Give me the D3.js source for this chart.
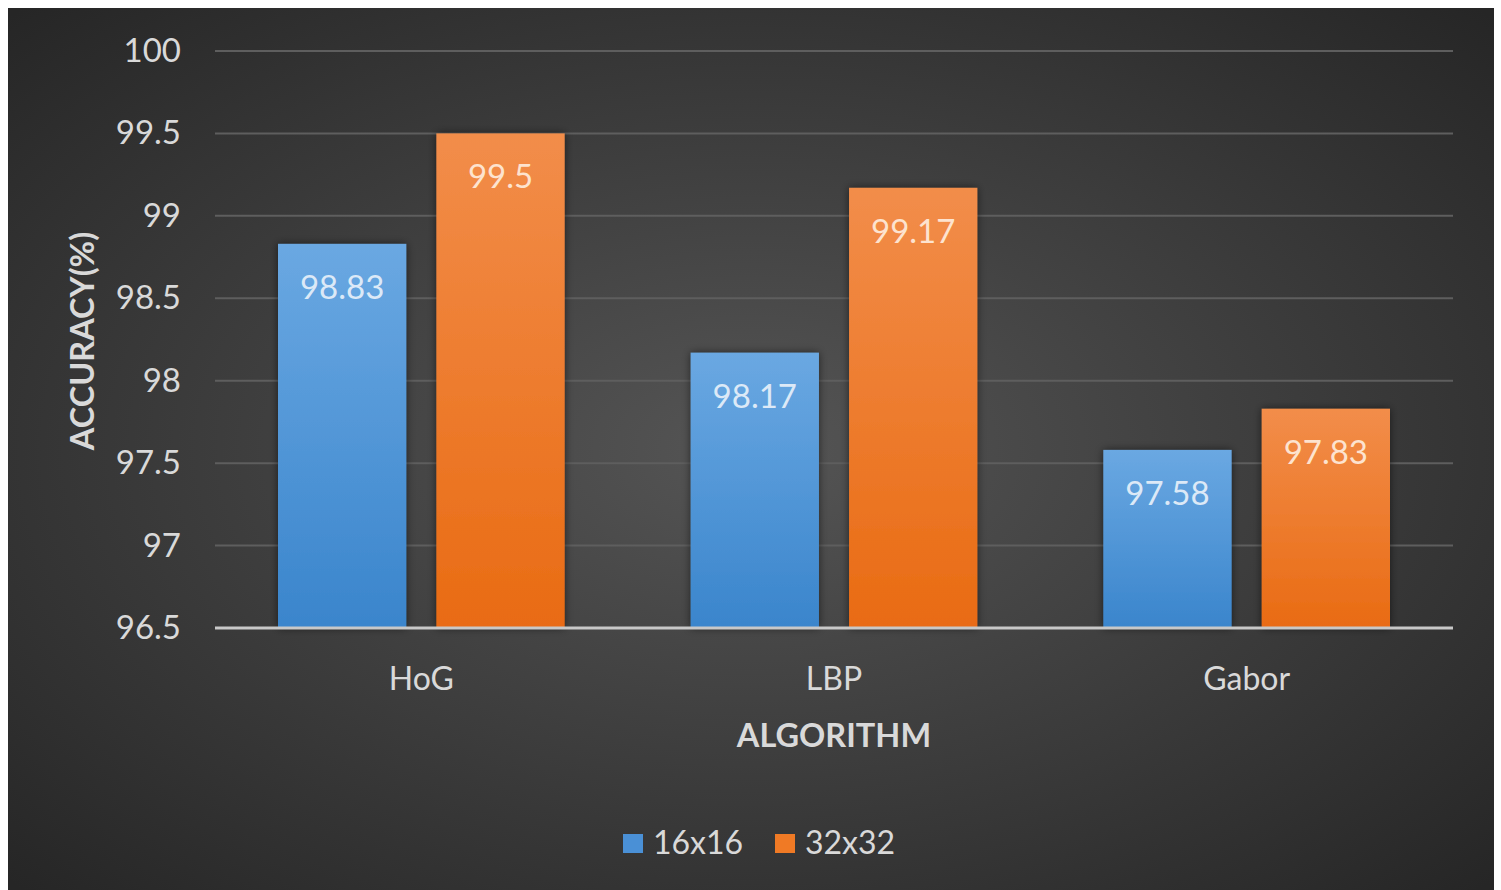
<!DOCTYPE html>
<html><head><meta charset="utf-8">
<script src="https://cdn.jsdelivr.net/npm/d3@7"></script>
<style>html,body{margin:0;padding:0;background:#fff;overflow:hidden}svg{display:block}</style>
</head><body>
<script>
const categories = ["HoG", "LBP", "Gabor"];
const seriesNames = ["16x16", "32x32"];
const values16 = [98.83, 98.17, 97.58];
const values32 = [99.5, 99.17, 97.83];
const yTicks = [96.5, 97, 97.5, 98, 98.5, 99, 99.5, 100];
const colors = ["#4a90d6", "#f07a25"];

(function () {
const W = 1501, H = 890;
const svg = d3.select("body").append("svg").attr("width", W).attr("height", H);
const defs = svg.append("defs");

const bg = defs.append("radialGradient").attr("id", "bg").attr("cx", "50%").attr("cy", "50%").attr("r", "70%");
bg.append("stop").attr("offset", "0%").attr("stop-color", "#555555");
bg.append("stop").attr("offset", "100%").attr("stop-color", "#262626");

const gBlue = defs.append("linearGradient").attr("id", "gb").attr("x1", 0).attr("y1", 0).attr("x2", 0).attr("y2", 1);
gBlue.append("stop").attr("offset", "0%").attr("stop-color", "#6aa8e2");
gBlue.append("stop").attr("offset", "100%").attr("stop-color", "#3a85cc");
const gOr = defs.append("linearGradient").attr("id", "go").attr("x1", 0).attr("y1", 0).attr("x2", 0).attr("y2", 1);
gOr.append("stop").attr("offset", "0%").attr("stop-color", "#f28d4a");
gOr.append("stop").attr("offset", "100%").attr("stop-color", "#e96b13");
const fills = ["url(#gb)", "url(#go)"];

const sh = defs.append("filter").attr("id", "sh").attr("x", "-20%").attr("y", "-20%").attr("width", "140%").attr("height", "140%");
sh.append("feDropShadow").attr("dx", 0).attr("dy", 0).attr("stdDeviation", 4).attr("flood-color", "#000").attr("flood-opacity", 0.55);

svg.append("rect").attr("x", 8).attr("y", 8).attr("width", 1486).attr("height", 882).attr("fill", "url(#bg)");

const pL = 215, pR = 1453, pT = 51, pB = 628;
const x0 = d3.scaleBand().domain(categories).range([pL, pR]).paddingInner(0).paddingOuter(0);
const inner = d3.scaleBand().domain(seriesNames).range([63, x0.bandwidth() - 63]).paddingInner(0.19).paddingOuter(0);
const y = d3.scaleLinear().domain([96.5, 100]).range([pB, pT]);

const font = "Lato, 'Open Sans', sans-serif";
const textCol = "#d9d9d9";

// gridlines
svg.append("g").selectAll("line").data(yTicks.filter(t => t > 96.5)).join("line")
  .attr("x1", pL).attr("x2", pR)
  .attr("y1", d => y(d)).attr("y2", d => y(d))
  .attr("stroke", "#5e5e5e").attr("stroke-width", 2);

// y axis labels
const yAxis = d3.axisLeft(y).tickValues(yTicks).tickSize(0).tickPadding(0).tickFormat(d => String(d));
const ya = svg.append("g").attr("transform", `translate(${181},0)`).call(yAxis);
ya.select(".domain").remove();
ya.selectAll("text").attr("fill", textCol).style("font-family", font).style("font-size", "33px");

// bars
const data = categories.map((c, i) => ({ c, vals: [values16[i], values32[i]] }));
const groups = svg.append("g").selectAll("g").data(data).join("g")
  .attr("transform", d => `translate(${x0(d.c)},0)`);
groups.selectAll("rect").data(d => d.vals.map((v, k) => ({ s: seriesNames[k], v, k }))).join("rect")
  .attr("x", d => inner(d.s)).attr("width", inner.bandwidth())
  .attr("y", d => y(d.v)).attr("height", d => y(96.5) - y(d.v))
  .attr("fill", d => fills[d.k]).attr("filter", "url(#sh)");
groups.selectAll("text").data(d => d.vals.map((v, k) => ({ s: seriesNames[k], v, k }))).join("text")
  .attr("x", d => inner(d.s) + inner.bandwidth() / 2).attr("y", d => y(d.v) + 55)
  .attr("text-anchor", "middle")
  .attr("fill", d => d.k === 0 ? "#dce9f7" : "#fde3cf")
  .style("font-family", font).style("font-size", "33px")
  .text(d => String(d.v));

// x axis
const xAxis = d3.axisBottom(x0).tickSize(0).tickPadding(0);
const xa = svg.append("g").attr("transform", `translate(0,${pB})`).call(xAxis);
xa.select(".domain").remove();
xa.selectAll("text").attr("dy", null).attr("y", 62).attr("fill", textCol).style("font-family", font).style("font-size", "32px");
svg.append("line").attr("x1", pL).attr("x2", pR).attr("y1", pB).attr("y2", pB)
  .attr("stroke", "#c8c8c8").attr("stroke-width", 3);

// axis titles
svg.append("text").attr("x", (pL + pR) / 2).attr("y", 747).attr("text-anchor", "middle")
  .attr("fill", textCol).style("font-family", font).style("font-weight", "bold").style("font-size", "32.5px").text("ALGORITHM");
svg.append("text").attr("transform", `translate(94,341) rotate(-90)`).attr("text-anchor", "middle")
  .attr("fill", textCol).style("font-family", font).style("font-weight", "bold").style("font-size", "32.5px").text("ACCURACY(%)");

// legend
const legX = [623, 775];
const leg = svg.append("g").selectAll("g").data(seriesNames).join("g")
  .attr("transform", (d, i) => `translate(${legX[i]},834)`);
leg.append("rect").attr("width", 20).attr("height", 19).attr("fill", (d, i) => colors[i]);
leg.append("text").attr("x", 30).attr("y", 20).attr("fill", textCol)
  .style("font-family", font).style("font-size", "32px").text(d => d);
})();
</script>
</body></html>
